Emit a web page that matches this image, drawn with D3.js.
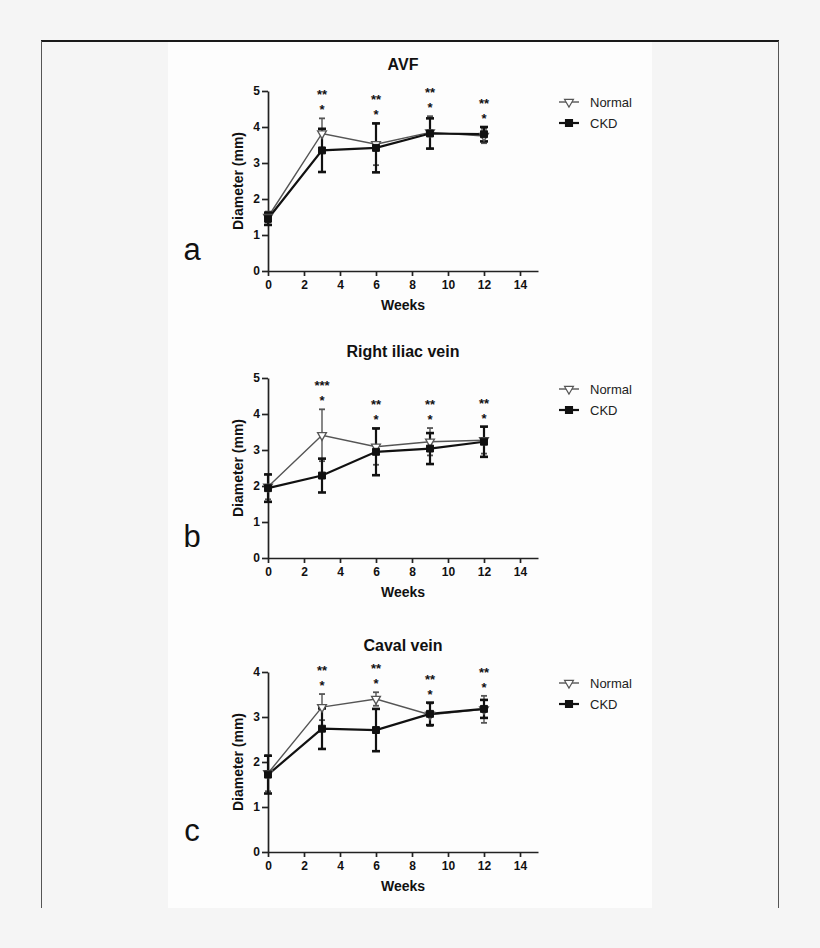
<!DOCTYPE html>
<html>
<head>
<meta charset="utf-8">
<script src="https://cdn.jsdelivr.net/npm/d3@7"></script>
<style>
  body { margin:0; background:#f5f5f5; font-family:"Liberation Sans", Arial, sans-serif; }
  svg text { font-family:"Liberation Sans", Arial, sans-serif; }
</style>
</head>
<body>
<div id="chart-area"></div>
<script>
// weeks after surgery
const weeks = [0, 3, 6, 9, 12];
const xTicks = [0, 2, 4, 6, 8, 10, 12, 14];
const seriesNames = ['Normal', 'CKD'];
const panelTitles = ['AVF', 'Right iliac vein', 'Caval vein'];
const panelLetters = ['a', 'b', 'c'];
const yMaxes = [5, 5, 4];

// a: AVF
const avfNormal   = [1.50, 3.82, 3.52, 3.85, 3.75];
const avfNormalSd = [0.15, 0.42, 0.58, 0.45, 0.20];
const avfCkd      = [1.45, 3.35, 3.42, 3.82, 3.80];
const avfCkdSd    = [0.17, 0.60, 0.68, 0.42, 0.20];
const avfStarsHi  = ['', '**', '**', '**', '**'];
const avfStarsLo  = ['', '*', '*', '*', '*'];

// b: right iliac vein
const iliacNormal   = [1.98, 3.41, 3.09, 3.23, 3.27];
const iliacNormalSd = [0.35, 0.72, 0.50, 0.38, 0.37];
const iliacCkd      = [1.94, 2.29, 2.95, 3.04, 3.23];
const iliacCkdSd    = [0.38, 0.47, 0.65, 0.43, 0.42];
const iliacStarsHi  = ['', '***', '**', '**', '**'];
const iliacStarsLo  = ['', '*', '*', '*', '*'];

// c: caval vein
const cavalNormal   = [1.75, 3.22, 3.40, 3.05, 3.17];
const cavalNormalSd = [0.40, 0.29, 0.15, 0.25, 0.30];
const cavalCkd      = [1.72, 2.74, 2.71, 3.07, 3.18];
const cavalCkdSd    = [0.42, 0.45, 0.47, 0.25, 0.20];
const cavalStarsHi  = ['', '**', '**', '**', '**'];
const cavalStarsLo  = ['', '*', '*', '*', '*'];

const W = 820, H = 948;
const plotLeft = 268;
const plotW = 270;   // 0..15 weeks
const plotH = 180;
const plotBottoms = [271, 558, 852];

const normalColor = '#555';
const ckdColor = '#111';

const svg = d3.select('#chart-area').append('svg')
    .attr('width', W).attr('height', H)
    .style('display', 'block');

svg.append('rect').attr('width', W).attr('height', H).attr('fill', '#f5f5f5');
svg.append('rect').attr('x', 168).attr('y', 41).attr('width', 484).attr('height', 867).attr('fill', '#fdfdfd');

// frame
svg.append('line').attr('x1', 41).attr('x2', 779).attr('y1', 41).attr('y2', 41)
   .attr('stroke', '#1a1a1a').attr('stroke-width', 2);
svg.append('line').attr('x1', 41.5).attr('x2', 41.5).attr('y1', 41).attr('y2', 908)
   .attr('stroke', '#555').attr('stroke-width', 1);
svg.append('line').attr('x1', 778.5).attr('x2', 778.5).attr('y1', 41).attr('y2', 908)
   .attr('stroke', '#555').attr('stroke-width', 1);

const panels = [
  {normal: avfNormal, normalSd: avfNormalSd, ckd: avfCkd, ckdSd: avfCkdSd, hi: avfStarsHi, lo: avfStarsLo},
  {normal: iliacNormal, normalSd: iliacNormalSd, ckd: iliacCkd, ckdSd: iliacCkdSd, hi: iliacStarsHi, lo: iliacStarsLo},
  {normal: cavalNormal, normalSd: cavalNormalSd, ckd: cavalCkd, ckdSd: cavalCkdSd, hi: cavalStarsHi, lo: cavalStarsLo}
];

var triangle = d3.symbol().type(d3.symbolTriangle).size(34);
var square = d3.symbol().type(d3.symbolSquare).size(48);

panels.forEach(function(p, i) {
  var y0 = plotBottoms[i];
  var g = svg.append('g').attr('transform', `translate(${plotLeft},${y0 - plotH})`);

  var xScale = d3.scaleLinear().domain([0, 15]).range([0, plotW]);
  var yScale = d3.scaleLinear().domain([0, yMaxes[i]]).range([plotH, 0]);

  var xAxis = d3.axisBottom(xScale).tickValues(xTicks).tickSize(5).tickSizeOuter(0).tickPadding(4);
  var yAxis = d3.axisLeft(yScale).ticks(yMaxes[i]).tickFormat(d3.format('d')).tickSize(6).tickSizeOuter(0).tickPadding(2);

  var gx = g.append('g').attr('transform', `translate(0,${plotH})`).call(xAxis);
  var gy = g.append('g').call(yAxis);
  [gx, gy].forEach(function(a) {
    a.select('.domain').attr('stroke', '#222').attr('stroke-width', 1.7);
    a.selectAll('.tick line').attr('stroke', '#222').attr('stroke-width', 1.7);
    a.selectAll('.tick text').attr('fill', '#111').attr('font-size', 12).attr('font-weight', 'bold');
  });

  // title and axis labels
  g.append('text').attr('x', plotW / 2).attr('y', -21)
   .attr('text-anchor', 'middle').attr('font-size', 16).attr('font-weight', 'bold')
   .attr('fill', '#111').text(panelTitles[i]);

  g.append('text').attr('x', plotW / 2).attr('y', plotH + 39)
   .attr('text-anchor', 'middle').attr('font-size', 14).attr('font-weight', 'bold')
   .attr('fill', '#111').text('Weeks');

  g.append('text')
   .attr('transform', `translate(${-25},${plotH / 2}) rotate(-90)`)
   .attr('text-anchor', 'middle').attr('font-size', 14).attr('font-weight', 'bold')
   .attr('fill', '#111').text('Diameter (mm)');

  svg.append('text').attr('x', 192).attr('y', y0 - 11)
   .attr('text-anchor', 'middle').attr('font-size', 31).attr('fill', '#111')
   .text(panelLetters[i]);

  var line = d3.line().x((d, k) => xScale(weeks[k])).y(d => yScale(d));

  var series = [
    {vals: p.normal, sd: p.normalSd, color: normalColor, lw: 1.4, cap: 6, mk: 'tri'},
    {vals: p.ckd, sd: p.ckdSd, color: ckdColor, lw: 2.2, cap: 8, mk: 'sq'}
  ];

  series.forEach(function(s) {
    // error bars
    var eb = g.append('g');
    s.vals.forEach(function(v, k) {
      var x = xScale(weeks[k]);
      var yt = yScale(v + s.sd[k]), yb = yScale(v - s.sd[k]);
      eb.append('line').attr('x1', x).attr('x2', x).attr('y1', yt).attr('y2', yb)
        .attr('stroke', s.color).attr('stroke-width', s.lw);
      [yt, yb].forEach(function(yy) {
        eb.append('line').attr('x1', x - s.cap / 2).attr('x2', x + s.cap / 2)
          .attr('y1', yy).attr('y2', yy)
          .attr('stroke', s.color).attr('stroke-width', s.lw + 0.4);
      });
    });
    g.append('path').datum(s.vals).attr('d', line)
     .attr('fill', 'none').attr('stroke', s.color).attr('stroke-width', s.lw);
  });

  series.forEach(function(s) {
    g.selectAll(null).data(s.vals).enter().append('path')
     .attr('transform', (d, k) => `translate(${xScale(weeks[k])},${yScale(d)})` + (s.mk === 'tri' ? ' rotate(180)' : ''))
     .attr('d', s.mk === 'tri' ? triangle() : square())
     .attr('fill', s.mk === 'tri' ? '#fff' : s.color)
     .attr('stroke', s.color).attr('stroke-width', s.mk === 'tri' ? 1.3 : 1);
  });

  // significance stars above the highest error bar
  weeks.forEach(function(w, k) {
    var top = Math.max(p.normal[k] + p.normalSd[k], p.ckd[k] + p.ckdSd[k]);
    var yLo = yScale(top) - 11;
    var x = xScale(w);
    if (p.lo[k]) {
      g.append('text').attr('x', x).attr('y', yLo + 7).attr('text-anchor', 'middle')
       .attr('font-size', 13).attr('font-weight', 'bold').attr('fill', '#111').text(p.lo[k]);
    }
    if (p.hi[k]) {
      g.append('text').attr('x', x).attr('y', yLo - 15 + 7).attr('text-anchor', 'middle')
       .attr('font-size', 13).attr('font-weight', 'bold').attr('fill', '#111').text(p.hi[k]);
    }
  });

  // legend
  var lg = g.append('g').attr('transform', `translate(${plotW + 21},11)`);
  series.forEach(function(s, j) {
    var ly = j * 21;
    lg.append('line').attr('x1', 0).attr('x2', 20).attr('y1', ly).attr('y2', ly)
      .attr('stroke', s.color).attr('stroke-width', s.lw);
    lg.append('path')
      .attr('transform', `translate(10,${ly})` + (s.mk === 'tri' ? ' rotate(180)' : ''))
      .attr('d', s.mk === 'tri' ? triangle() : square())
      .attr('fill', s.mk === 'tri' ? '#fff' : s.color)
      .attr('stroke', s.color).attr('stroke-width', 1.2);
    lg.append('text').attr('x', 31).attr('y', ly + 5)
      .attr('font-size', 13).attr('fill', '#222').text(seriesNames[j]);
  });
});
</script>
</body>
</html>
